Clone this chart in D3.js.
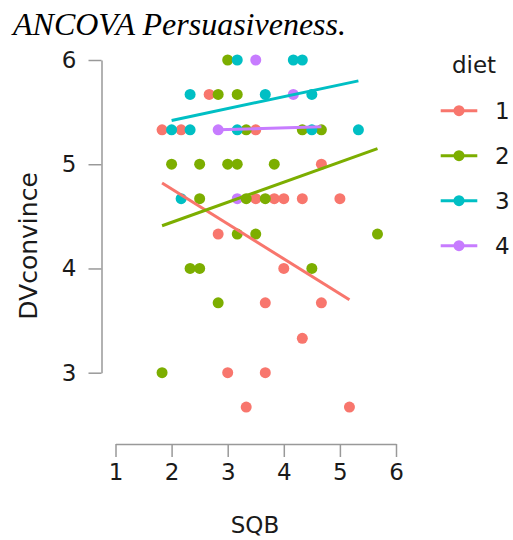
<!DOCTYPE html>
<html>
<head>
<meta charset="utf-8">
<script src="https://cdn.jsdelivr.net/npm/d3@7"></script>
<style>
  body { margin: 0; background: #fff; }
  svg { font-family: "DejaVu Sans", sans-serif; }
</style>
</head>
<body>
<div id="chart"></div>
<script>
// groups and colours
var dietLevels = ["1", "2", "3", "4"];
var dietColors = ["#F8766D", "#7CAE00", "#00BFC4", "#C77CFF"];

// points per diet (SQB, DVconvince)
var sqb1 = [2.67, 1.83, 2.17, 3.5, 4.67, 3.5, 3.83, 4.0, 4.33, 5.0, 2.83, 4.0, 3.67, 4.67, 4.33, 3.0, 3.67, 3.33, 5.17];
var dv1  = [5.67, 5.33, 5.33, 5.33, 5.0, 4.67, 4.67, 4.67, 4.67, 4.67, 4.33, 4.0, 3.67, 3.67, 3.33, 3.0, 3.0, 2.67, 2.67];

var sqb2 = [3.0, 2.83, 3.17, 3.33, 4.33, 4.67, 2.0, 2.5, 3.0, 3.17, 3.83, 2.5, 3.33, 3.67, 3.17, 3.5, 5.67, 2.33, 2.5, 4.5, 2.83, 1.83];
var dv2  = [6.0, 5.67, 5.67, 5.33, 5.33, 5.33, 5.0, 5.0, 5.0, 5.0, 5.0, 4.67, 4.67, 4.67, 4.33, 4.33, 4.33, 4.0, 4.0, 4.0, 3.67, 3.0];

var sqb3 = [3.17, 4.17, 4.33, 2.33, 3.67, 4.5, 2.0, 2.33, 3.17, 4.5, 5.33, 2.17];
var dv3  = [6.0, 6.0, 6.0, 5.67, 5.67, 5.67, 5.33, 5.33, 5.33, 5.33, 5.33, 4.67];

var sqb4 = [3.5, 4.17, 2.83, 3.17];
var dv4  = [6.0, 5.67, 5.33, 4.67];

// fitted lines per diet: [start, end]
var fitSQB = [[1.83, 5.17], [1.83, 5.67], [2.0, 5.33], [2.83, 4.67]];
var fitDV  = [[4.82, 3.70], [4.41, 5.15], [5.42, 5.80], [5.33, 5.36]];

var xTicks = [1, 2, 3, 4, 5, 6];
var yTicks = [3, 4, 5, 6];

var width = 513, height = 540;
var margin = { top: 60, left: 115.5, right: 117, bottom: 167.3 };

var svg = d3.select("#chart").append("svg")
    .attr("width", width)
    .attr("height", height);

var xScale = d3.scaleLinear()
    .domain([1, 6])
    .range([margin.left, width - margin.right]);

var yScale = d3.scaleLinear()
    .domain([3, 6])
    .range([height - margin.bottom, margin.top]);

var colorScale = d3.scaleOrdinal().domain(dietLevels).range(dietColors);

// title
svg.append("text")
    .attr("x", 13)
    .attr("y", 35)
    .style("font-family", "'Liberation Serif', serif")
    .style("font-style", "italic")
    .style("font-size", "32px")
    .text("ANCOVA Persuasiveness.");

// axes
var xAxis = d3.axisBottom(xScale).tickValues(xTicks).tickFormat(d3.format("d"))
    .tickSize(13).tickPadding(7).tickSizeOuter(0);
var yAxis = d3.axisLeft(yScale).tickValues(yTicks).tickFormat(d3.format("d"))
    .tickSize(13).tickPadding(12).tickSizeOuter(0);

var gx = svg.append("g")
    .attr("transform", "translate(0," + 444 + ")")
    .call(xAxis);
var gy = svg.append("g")
    .attr("transform", "translate(" + 101.5 + ",0)")
    .call(yAxis);

[gx, gy].forEach(function(g) {
  g.select(".domain").attr("stroke", "#999").attr("stroke-width", 1.5);
  g.selectAll(".tick line").attr("stroke", "#999").attr("stroke-width", 1.5);
  g.selectAll(".tick text")
      .attr("fill", "#1a1a1a")
      .style("font-family", "'DejaVu Sans', sans-serif")
      .style("font-size", "23px");
});

// axis titles
svg.append("text")
    .attr("x", 255)
    .attr("y", 533)
    .attr("text-anchor", "middle")
    .style("font-size", "23px")
    .attr("fill", "#1a1a1a")
    .text("SQB");

svg.append("text")
    .attr("transform", "translate(37,246) rotate(-90)")
    .attr("text-anchor", "middle")
    .style("font-size", "25px")
    .attr("fill", "#1a1a1a")
    .text("DVconvince");

// points
var groups = [
  { diet: "4", sqb: sqb4, dv: dv4 },
  { diet: "1", sqb: sqb1, dv: dv1 },
  { diet: "2", sqb: sqb2, dv: dv2 },
  { diet: "3", sqb: sqb3, dv: dv3 }
];

var plot = svg.append("g");
groups.forEach(function(g) {
  var pts = d3.zip(g.sqb, g.dv);
  plot.selectAll(".dot-" + g.diet)
      .data(pts)
      .enter().append("circle")
      .attr("class", "dot-" + g.diet)
      .attr("cx", function(d) { return xScale(d[0]); })
      .attr("cy", function(d) { return yScale(d[1]); })
      .attr("r", 5.5)
      .attr("fill", colorScale(g.diet));
});

// fitted lines
dietLevels.forEach(function(lv, i) {
  plot.append("line")
      .attr("x1", xScale(fitSQB[i][0]))
      .attr("y1", yScale(fitDV[i][0]))
      .attr("x2", xScale(fitSQB[i][1]))
      .attr("y2", yScale(fitDV[i][1]))
      .attr("stroke", dietColors[i])
      .attr("stroke-width", 3);
});

// legend
var legend = svg.append("g");
legend.append("text")
    .attr("x", 474)
    .attr("y", 73)
    .attr("text-anchor", "middle")
    .style("font-size", "23px")
    .attr("fill", "#1a1a1a")
    .text("diet");

var keys = legend.selectAll(".key")
    .data(dietLevels)
    .enter().append("g")
    .attr("class", "key")
    .attr("transform", function(d, i) { return "translate(0," + (110.7 + i * 45) + ")"; });

keys.append("line")
    .attr("x1", 440.7).attr("x2", 477.3)
    .attr("stroke", function(d) { return colorScale(d); })
    .attr("stroke-width", 3);
keys.append("circle")
    .attr("cx", 459).attr("r", 5.5)
    .attr("fill", function(d) { return colorScale(d); });
keys.append("text")
    .attr("x", 495)
    .attr("dy", "0.36em")
    .style("font-size", "23px")
    .attr("fill", "#1a1a1a")
    .text(function(d) { return d; });
</script>
</body>
</html>
